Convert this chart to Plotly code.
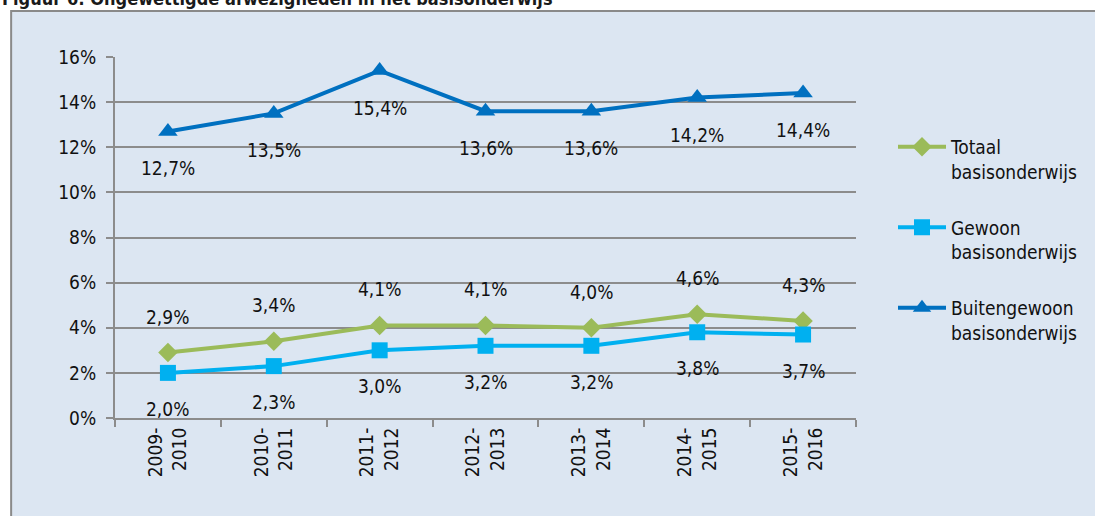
import plotly.graph_objects as go

# schooljaren
years = ["2009-<br>2010", "2010-<br>2011", "2011-<br>2012", "2012-<br>2013",
         "2013-<br>2014", "2014-<br>2015", "2015-<br>2016"]

totaal = [2.9, 3.4, 4.1, 4.1, 4.0, 4.6, 4.3]
gewoon = [2.0, 2.3, 3.0, 3.2, 3.2, 3.8, 3.7]
buitengewoon = [12.7, 13.5, 15.4, 13.6, 13.6, 14.2, 14.4]

y_ticks = [0, 2, 4, 6, 8, 10, 12, 14, 16]

FONT = "DejaVu Sans Condensed, Liberation Sans Narrow, sans-serif"
BG = "#dce6f2"
GRID = "#8c8c8c"
TXT = "#111111"

W, H = 1095, 516
L, R, T, B = 115, 1095 - 857, 57, 516 - 418
pw, ph = W - L - R, H - T - B


def px_x(x):
    return (x - L) / pw


def px_y(y):
    return (H - B - y) / ph


series = [
    ("Totaal<br>basisonderwijs", totaal, "#9bbb59", "diamond", 15, 36),
    ("Gewoon<br>basisonderwijs", gewoon, "#00b0f0", "square", 16, -36),
    ("Buitengewoon<br>basisonderwijs", buitengewoon, "#0070c0", "triangle-up", 17, -37),
]

fig = go.Figure()
annotations = []
for i, (name, vals, color, symbol, size, shift) in enumerate(series):
    fig.add_trace(go.Scatter(
        x=years, y=vals, name=name, mode="lines+markers",
        legendgroup=str(i),
        line=dict(color=color, width=4),
        marker=dict(symbol=symbol, size=size, color=color),
    ))
    for x, v in zip(years, vals):
        annotations.append(dict(
            x=x, y=v, xref="x", yref="y",
            text=f"{v:.1f}%".replace(".", ","),
            showarrow=False, yshift=shift, yanchor="middle",
            font=dict(family=FONT, size=19, color=TXT),
        ))

# titel, grotendeels buiten beeld
annotations.append(dict(
    x=px_x(0), y=px_y(11), xref="paper", yref="paper",
    xanchor="left", yanchor="bottom", showarrow=False,
    text="<b>Figuur 6: Ongewettigde afwezigheden in het basisonderwijs</b>",
    font=dict(family=FONT, size=18, color="#1a1a1a"),
))

fig.update_layout(
    width=W, height=H,
    margin=dict(l=L, r=R, t=T, b=B),
    paper_bgcolor="white",
    plot_bgcolor="rgba(0,0,0,0)",
    font=dict(family=FONT, size=19, color=TXT),
    annotations=annotations,
    shapes=[dict(
        type="rect", xref="paper", yref="paper", layer="below",
        x0=px_x(11), x1=px_x(W + 20), y0=px_y(H + 20), y1=px_y(11),
        fillcolor=BG, line=dict(color="#8a8a8a", width=2),
    )],
    showlegend=True,
    legend=dict(
        x=px_x(893), y=px_y(128), xanchor="left", yanchor="top",
        bgcolor="rgba(0,0,0,0)", font=dict(family=FONT, size=19, color=TXT),
        tracegroupgap=28, valign="top", itemwidth=48,
    ),
    xaxis=dict(
        type="category", tickangle=-90, tickson="boundaries",
        ticks="outside", ticklen=7, tickcolor=GRID, tickwidth=2,
        showline=True, linecolor=GRID, linewidth=2,
        showgrid=False, range=[-0.5, 6.5],
        tickfont=dict(family=FONT, size=19, color=TXT),
    ),
    yaxis=dict(
        range=[0, 16], tickvals=y_ticks, ticktext=[f"{t}%" for t in y_ticks],
        ticks="outside", ticklen=7, tickcolor=GRID, tickwidth=2,
        showline=True, linecolor=GRID, linewidth=2,
        showgrid=True, gridcolor=GRID, gridwidth=1.5,
        zeroline=False, ticklabelstandoff=6,
        tickfont=dict(family=FONT, size=19, color=TXT),
    ),
)

# geen paginamarge, zodat de figuur het hele venster vult
fig.write_html(
    "out.html",
    config={"displayModeBar": False},
    post_script="document.body.style.margin='0';document.body.style.overflow='hidden';",
)
